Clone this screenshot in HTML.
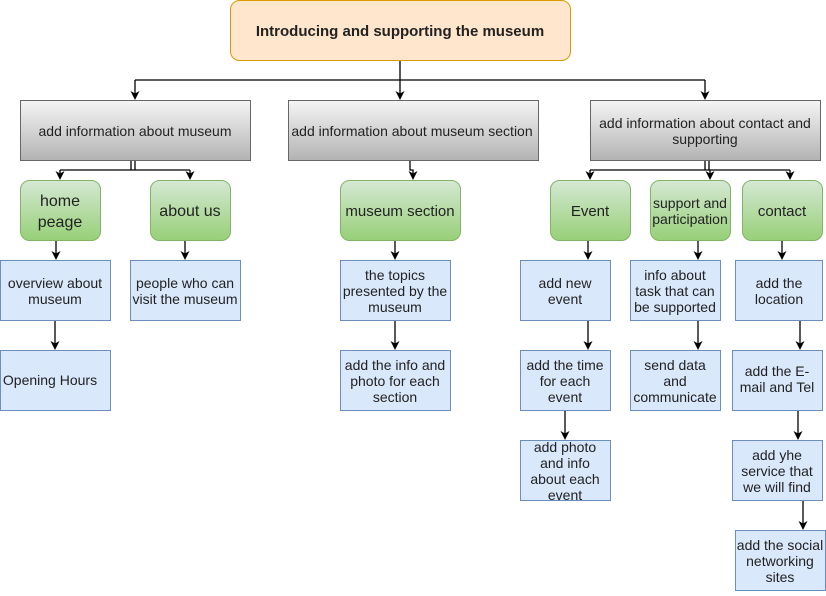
<!DOCTYPE html>
<html><head><meta charset="utf-8"><style>
body{margin:0;background:#fff}
text{font-family:"Liberation Sans",sans-serif;font-size:14px;fill:#222;text-anchor:middle}
</style></head><body>
<svg width="826" height="591" viewBox="0 0 826 591" xmlns="http://www.w3.org/2000/svg">
<defs>
<linearGradient id="g" x1="0" y1="0" x2="0" y2="1"><stop offset="0" stop-color="#f5f5f5"/><stop offset="1" stop-color="#b3b3b3"/></linearGradient>
<linearGradient id="gr" x1="0" y1="0" x2="0" y2="1"><stop offset="0" stop-color="#d5e8d4"/><stop offset="1" stop-color="#97d077"/></linearGradient>
<path id="ah" d="M-4.5,-9 L0,0 L4.5,-9 L0,-6.5 Z" fill="#000"/>
</defs>
<g stroke="#000" fill="none" stroke-width="1.3">
<path d="M400 60V80M135 80H705"/>
<path d="M135 80V94M400 80V94M705 80V94" />
<path d="M131 160V170M135 160V170M60 170H190M60 170V174M190 170V174"/>
<path d="M410 160V170H413V174"/>
<path d="M705 160V170M709 160V170M590 170H790M590 170V174M710 170V174M790 170V174"/>
<line x1="56" y1="240" x2="56" y2="254"/><line x1="55" y1="320" x2="55" y2="344"/>
<line x1="185" y1="240" x2="185" y2="254"/>
<line x1="395" y1="240" x2="395" y2="254"/><line x1="395" y1="320" x2="395" y2="344"/>
<line x1="588" y1="240" x2="588" y2="254"/><line x1="588" y1="320" x2="588" y2="344"/><line x1="565" y1="410" x2="565" y2="434"/>
<line x1="698" y1="240" x2="698" y2="254"/><line x1="698" y1="320" x2="698" y2="344"/>
<line x1="782" y1="240" x2="782" y2="254"/><line x1="800" y1="320" x2="800" y2="344"/><line x1="798" y1="410" x2="798" y2="434"/><line x1="803" y1="500" x2="803" y2="524"/>
</g>
<g>
<use href="#ah" x="135" y="100"/><use href="#ah" x="400" y="100"/><use href="#ah" x="705" y="100"/>
<use href="#ah" x="60" y="180"/><use href="#ah" x="190" y="180"/><use href="#ah" x="413" y="180"/>
<use href="#ah" x="590" y="180"/><use href="#ah" x="710" y="180"/><use href="#ah" x="790" y="180"/>
<use href="#ah" x="56" y="260"/><use href="#ah" x="55" y="350"/><use href="#ah" x="185" y="260"/>
<use href="#ah" x="395" y="260"/><use href="#ah" x="395" y="350"/>
<use href="#ah" x="588" y="260"/><use href="#ah" x="588" y="350"/><use href="#ah" x="565" y="440"/>
<use href="#ah" x="698" y="260"/><use href="#ah" x="698" y="350"/>
<use href="#ah" x="782" y="260"/><use href="#ah" x="800" y="350"/><use href="#ah" x="798" y="440"/><use href="#ah" x="803" y="530"/>
</g>
<rect x="230.5" y="0.5" width="340" height="60" rx="9" fill="#ffe6cc" stroke="#d79b00"/>
<text x="400" y="36" style="font-weight:bold;font-size:15px">Introducing and supporting the museum</text>
<g stroke="#666" fill="url(#g)">
<rect x="20.5" y="100.5" width="230" height="60"/>
<rect x="288.5" y="100.5" width="250" height="60"/>
<rect x="590.5" y="100.5" width="230" height="60"/>
</g>
<text x="135" y="136">add information about museum</text>
<text x="412" y="136">add information about museum section</text>
<text x="705" y="128">add information about contact and</text>
<text x="705" y="144">supporting</text>
<g stroke="#82b366" fill="url(#gr)">
<rect x="20.5" y="180.5" width="80" height="60" rx="9"/>
<rect x="150.5" y="180.5" width="80" height="60" rx="9"/>
<rect x="340.5" y="180.5" width="120" height="60" rx="9"/>
<rect x="550.5" y="180.5" width="80" height="60" rx="9"/>
<rect x="650.5" y="180.5" width="80" height="60" rx="9"/>
<rect x="742.5" y="180.5" width="80" height="60" rx="9"/>
</g>
<text x="60" y="206" style="font-size:16px">home</text>
<text x="60" y="227" style="font-size:16px">peage</text>
<text x="190" y="216" style="font-size:16px">about us</text>
<text x="400" y="216" style="font-size:15px">museum section</text>
<text x="590" y="216" style="font-size:15px">Event</text>
<text x="690" y="208">support and</text>
<text x="690" y="224">participation</text>
<text x="782" y="216" style="font-size:15px">contact</text>
<g stroke="#6c8ebf" fill="#dae8fc">
<rect x="0.5" y="260.5" width="110" height="60"/>
<rect x="0.5" y="350.5" width="110" height="60"/>
<rect x="130.5" y="260.5" width="110" height="60"/>
<rect x="340.5" y="260.5" width="110" height="60"/>
<rect x="340.5" y="350.5" width="110" height="60"/>
<rect x="520.5" y="260.5" width="90" height="60"/>
<rect x="520.5" y="350.5" width="90" height="60"/>
<rect x="520.5" y="440.5" width="90" height="60"/>
<rect x="630.5" y="260.5" width="90" height="60"/>
<rect x="630.5" y="350.5" width="90" height="60"/>
<rect x="735.5" y="260.5" width="87" height="60"/>
<rect x="732.5" y="350.5" width="90" height="60"/>
<rect x="732.5" y="440.5" width="90" height="60"/>
<rect x="735.5" y="530.5" width="90" height="60"/>
</g>
<text x="55" y="288">overview about</text><text x="55" y="304">museum</text>
<text x="50" y="385">Opening Hours</text>
<text x="185" y="288">people who can</text><text x="185" y="304">visit the museum</text>
<text x="395" y="280">the topics</text><text x="395" y="296">presented by the</text><text x="395" y="312">museum</text>
<text x="395" y="370">add the info and</text><text x="395" y="386">photo for each</text><text x="395" y="402">section</text>
<text x="565" y="288">add new</text><text x="565" y="304">event</text>
<text x="565" y="370">add the time</text><text x="565" y="386">for each</text><text x="565" y="402">event</text>
<text x="565" y="452">add photo</text><text x="565" y="468">and info</text><text x="565" y="484">about each</text><text x="565" y="500">event</text>
<text x="675" y="280">info about</text><text x="675" y="296">task that can</text><text x="675" y="312">be supported</text>
<text x="675" y="370">send data</text><text x="675" y="386">and</text><text x="675" y="402">communicate</text>
<text x="779" y="288">add the</text><text x="779" y="304">location</text>
<text x="777" y="376">add the E-</text><text x="777" y="392">mail and Tel</text>
<text x="777" y="460">add yhe</text><text x="777" y="476">service that</text><text x="777" y="492">we will find</text>
<text x="780" y="550">add the social</text><text x="780" y="566">networking</text><text x="780" y="582">sites</text>
</svg>
</body></html>
